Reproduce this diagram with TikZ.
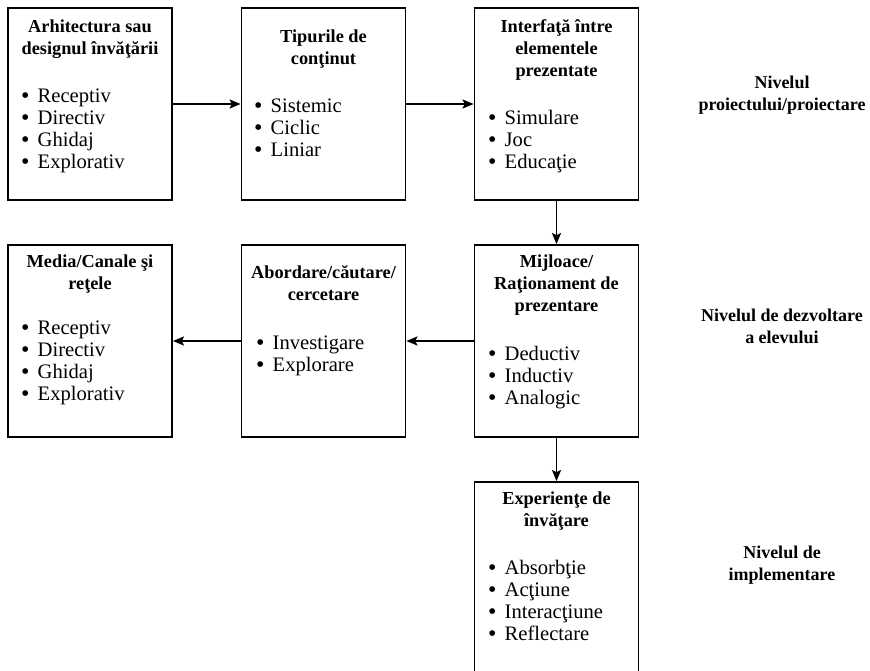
\documentclass[tikz,border=0pt]{standalone}
\usepackage{fontspec}
\setmainfont{Liberation Serif}
\usetikzlibrary{arrows.meta}
\newcommand{\tophT}{\rule{0pt}{13pt}}
\newcommand{\topbL}{\rule{0pt}{15pt}}
\newcommand{\bul}{\makebox[16.5pt][l]{\raisebox{-1pt}{\fontsize{24}{22}\selectfont •}}}
\tikzset{
  box/.style={draw, line width=1.8pt, minimum width=164pt, minimum height=192pt, inner sep=0pt},
  ttl/.style={font=\fontsize{18.3}{22}\selectfont\bfseries, align=center, anchor=north, inner sep=0pt},
  lst/.style={font=\fontsize{20.6}{22}\selectfont, align=left, anchor=north west, inner sep=0pt},
  lvl/.style={font=\fontsize{18}{22}\selectfont\bfseries, align=center, anchor=north, inner sep=0pt},
  conn/.style={line width=1.6pt, -{Stealth[length=11pt,width=9pt,inset=2pt]}}
}
\begin{document}
\begin{tikzpicture}[x=1pt,y=-1pt]
\path[use as bounding box, fill=white] (0,0) rectangle (870,670);
% boxes
\node[box] (b1) at (90,104) {};
\node[box] (b2) at (323.5,104) {};
\node[box] (b3) at (556.5,104) {};
\node[box] (b4) at (556.5,341) {};
\node[box] (b5) at (323.5,341) {};
\node[box] (b6) at (90,341) {};
\node[box] (b7) at (556.5,578) {};
% box 1
\node[ttl] (t1) at (90,19) {\tophT Arhitectura sau\\designul învăţării};
\node[lst] (l1) at (21,87) {\topbL\bul Receptiv\\\bul Directiv\\\bul Ghidaj\\\bul Explorativ};
% box 2
\node[ttl] (t2) at (323.5,29) {\tophT Tipurile de\\conţinut};
\node[lst] (l2) at (254,97) {\topbL\bul Sistemic\\\bul Ciclic\\\bul Liniar};
% box 3
\node[ttl] (t3) at (556.5,19) {\tophT Interfaţă între\\elementele\\prezentate};
\node[lst] (l3) at (488,109) {\topbL\bul Simulare\\\bul Joc\\\bul Educaţie};
% box 4
\node[ttl] (t4) at (556.5,254) {\tophT Mijloace/\\Raţionament de\\prezentare};
\node[lst] (l4) at (488,345) {\topbL\bul Deductiv\\\bul Inductiv\\\bul Analogic};
% box 5
\node[ttl] (t5) at (323.5,265) {\tophT Abordare/căutare/\\cercetare};
\node[lst] (l5) at (256,334) {\topbL\bul Investigare\\\bul Explorare};
% box 6
\node[ttl] (t6) at (90,254) {\tophT Media/Canale şi\\reţele};
\node[lst] (l6) at (21,319) {\topbL\bul Receptiv\\\bul Directiv\\\bul Ghidaj\\\bul Explorativ};
% box 7
\node[ttl] (t7) at (556.5,491) {\tophT Experienţe de\\învăţare};
\node[lst] (l7) at (488,559) {\topbL\bul Absorbţie\\\bul Acţiune\\\bul Interacţiune\\\bul Reflectare};
% level labels
\node[lvl] (v1) at (782,75) {\tophT Nivelul\\proiectului/proiectare};
\node[lvl] (v2) at (782,308) {\tophT Nivelul de dezvoltare\\a elevului};
\node[lvl] (v3) at (782,545) {\tophT Nivelul de\\implementare};
% connectors
\draw[conn] (b1) -- (b2);
\draw[conn] (b2) -- (b3);
\draw[conn] (b3) -- (b4);
\draw[conn] (b4) -- (b5);
\draw[conn] (b5) -- (b6);
\draw[conn] (b4) -- (b7);
\end{tikzpicture}
\end{document}
